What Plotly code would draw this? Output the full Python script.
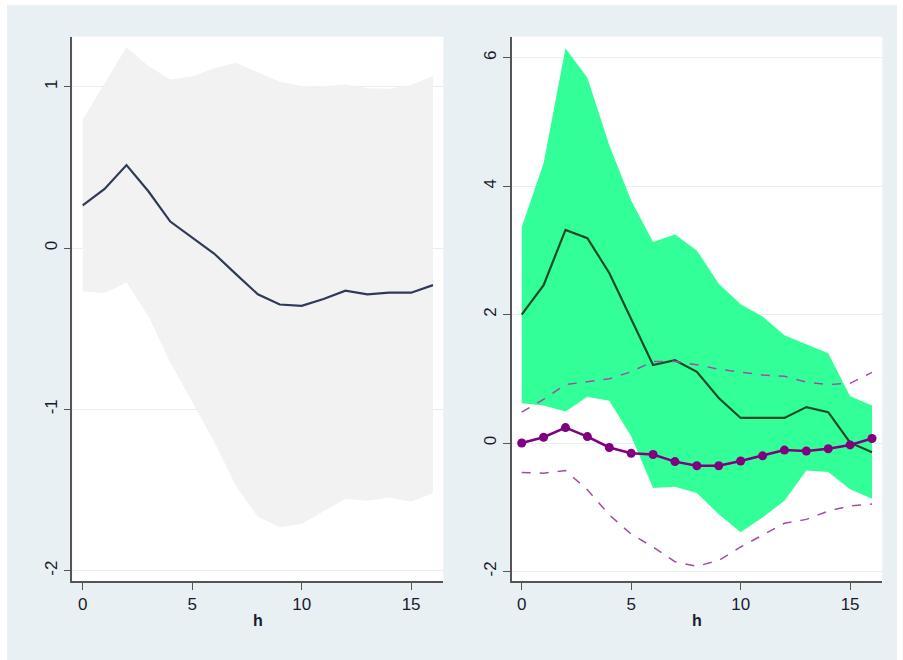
import plotly.graph_objects as go

W, H = 903, 660

# Horizon
h = list(range(17))

# Left panel: response with confidence band
left_mid = [0.264, 0.366, 0.514, 0.352, 0.164, 0.065, -0.034, -0.162, -0.287,
            -0.350, -0.358, -0.316, -0.264, -0.287, -0.277, -0.277, -0.230]
left_up = [0.796, 1.020, 1.245, 1.128, 1.044, 1.063, 1.115, 1.149, 1.089,
           1.031, 1.005, 1.003, 1.013, 0.990, 0.987, 1.010, 1.065]
left_lo = [-0.269, -0.279, -0.214, -0.423, -0.710, -0.953, -1.200, -1.475, -1.666,
           -1.731, -1.710, -1.632, -1.554, -1.567, -1.546, -1.572, -1.520]

# Right panel: first response with band
right_mid = [2.00, 2.46, 3.32, 3.19, 2.65, 1.945, 1.215, 1.29, 1.11,
             0.70, 0.39, 0.39, 0.39, 0.56, 0.48, 0.005, -0.145]
right_up = [3.36, 4.36, 6.15, 5.69, 4.64, 3.78, 3.13, 3.25, 3.00,
            2.48, 2.16, 1.97, 1.68, 1.54, 1.40, 0.73, 0.585]
right_lo = [0.62, 0.585, 0.49, 0.72, 0.66, 0.105, -0.70, -0.68, -0.78,
            -1.11, -1.39, -1.16, -0.90, -0.43, -0.45, -0.72, -0.87]

# Right panel: second response with dashed bounds
alt_mid = [0.00, 0.09, 0.24, 0.10, -0.07, -0.16, -0.18, -0.29, -0.355,
           -0.355, -0.28, -0.20, -0.11, -0.125, -0.09, -0.03, 0.07]
alt_up = [0.48, 0.68, 0.91, 0.96, 1.00, 1.11, 1.27, 1.27, 1.22,
          1.15, 1.10, 1.06, 1.04, 0.95, 0.91, 0.93, 1.10]
alt_lo = [-0.46, -0.47, -0.43, -0.73, -1.12, -1.42, -1.62, -1.85, -1.92,
          -1.83, -1.62, -1.43, -1.25, -1.19, -1.06, -0.98, -0.95]

x_ticks = [0, 5, 10, 15]
left_yticks = [-2, -1, 0, 1]
right_yticks = [-2, 0, 2, 4, 6]

fig = go.Figure()

# Left band and line
fig.add_trace(go.Scatter(x=h + h[::-1], y=left_up + left_lo[::-1], fill="toself",
                         fillcolor="#f2f2f2", line=dict(width=0), mode="lines",
                         hoverinfo="skip", xaxis="x", yaxis="y"))
fig.add_trace(go.Scatter(x=h, y=left_mid, mode="lines",
                         line=dict(color="#2e3a57", width=2.2), xaxis="x", yaxis="y"))

# Right band, lines and markers
fig.add_trace(go.Scatter(x=h + h[::-1], y=right_up + right_lo[::-1], fill="toself",
                         fillcolor="#33ff99", line=dict(width=0), mode="lines",
                         hoverinfo="skip", xaxis="x2", yaxis="y2"))
fig.add_trace(go.Scatter(x=h, y=right_mid, mode="lines",
                         line=dict(color="#1c4a24", width=2.2), xaxis="x2", yaxis="y2"))
fig.add_trace(go.Scatter(x=h, y=alt_up, mode="lines",
                         line=dict(color="#a24ca4", width=1.5, dash="dash"),
                         xaxis="x2", yaxis="y2"))
fig.add_trace(go.Scatter(x=h, y=alt_lo, mode="lines",
                         line=dict(color="#a24ca4", width=1.5, dash="dash"),
                         xaxis="x2", yaxis="y2"))
fig.add_trace(go.Scatter(x=h, y=alt_mid, mode="lines+markers",
                         line=dict(color="#800080", width=2.5),
                         marker=dict(color="#800080", size=9),
                         xaxis="x2", yaxis="y2"))

font = dict(family="Liberation Sans, Arial, sans-serif", size=17, color="#1a1a2e")

common_x = dict(tickvals=x_ticks, ticks="outside", ticklen=7, tickwidth=1.3,
                tickcolor="#555555", showline=True, linecolor="#555555", linewidth=1.5,
                showgrid=False, zeroline=False, tickfont=font,
                title=dict(text="<b>h</b>", font=dict(family=font["family"], size=16,
                                                       color="#1a1a2e"), standoff=2))
common_y = dict(ticks="outside", ticklen=7, tickwidth=1.3, tickcolor="#555555",
                showline=True, linecolor="#555555", linewidth=1.5,
                showgrid=True, gridcolor="#e6eff2", gridwidth=1.3, zeroline=False,
                tickangle=-90, tickfont=font)

# plot-area rectangles in paper pixels
L_x0, L_x1 = 72.3, 443.3
R_x0, R_x1 = 511.5, 882.3
y_bot, y_top = 581, 36.7


def px(xp):
    return xp / W


def py(yp):
    return (H - yp) / H


fig.update_layout(
    width=W, height=H, showlegend=False,
    margin=dict(l=0, r=0, t=0, b=0),
    paper_bgcolor="white", plot_bgcolor="white",
    xaxis=dict(domain=[px(L_x0), px(L_x1)], range=[-0.475, 16.47], anchor="y",
               **common_x),
    yaxis=dict(domain=[py(y_bot), py(y_top)], range=[-2.064, 1.31],
               tickvals=left_yticks, ticktext=[str(v) for v in left_yticks],
               anchor="x", **common_y),
    xaxis2=dict(domain=[px(R_x0), px(R_x1)], range=[-0.466, 16.47], anchor="y2",
                **common_x),
    yaxis2=dict(domain=[py(y_bot), py(y_top)], range=[-2.15, 6.33],
                tickvals=right_yticks, ticktext=[str(v) for v in right_yticks],
                anchor="x2", **common_y),
    shapes=[
        dict(type="rect", xref="paper", yref="paper", layer="below",
             x0=px(7), x1=px(897), y0=0, y1=py(5),
             fillcolor="#e8f0f3", line=dict(width=0)),
        dict(type="rect", xref="paper", yref="paper", layer="below",
             x0=px(L_x0), x1=px(L_x1), y0=py(y_bot), y1=py(y_top),
             fillcolor="white", line=dict(width=0)),
        dict(type="rect", xref="paper", yref="paper", layer="below",
             x0=px(R_x0), x1=px(R_x1), y0=py(y_bot), y1=py(y_top),
             fillcolor="white", line=dict(width=0)),
    ],
)

fig.write_html("out.html")
